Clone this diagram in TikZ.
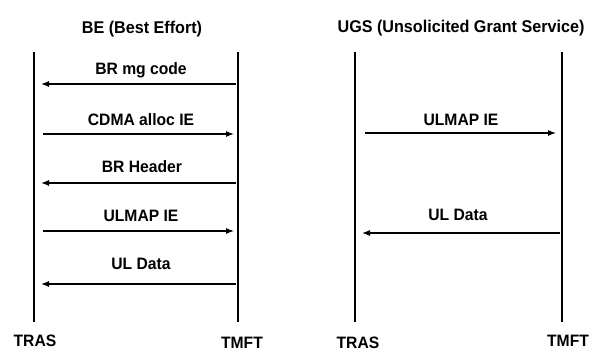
\documentclass[tikz,border=0pt]{standalone}
\usepackage{fontspec}
\setmainfont{Liberation Sans}[FakeStretch=0.95]
\usetikzlibrary{arrows.meta,positioning}

\tikzset{
	lifeline/.style={line width=1.2pt},
	msg/.style={-{Latex[length=8pt,width=6pt]},line width=1.1pt},
	lbl/.style={font=\bfseries\fontsize{16.5}{16.5}\selectfont,inner sep=0pt},
	ttl/.style={font=\bfseries\fontsize{17}{17}\selectfont,inner sep=0pt}
}

\begin{document}
\begin{tikzpicture}[x=1pt,y=-1pt]
	\useasboundingbox (0,0) rectangle (597,352);

	% BE (Best Effort)
	\node[ttl]	(beTitle)	at (142,29)		{BE (Best Effort)};
	\coordinate	(beTrasTop)	at (34,52);
	\coordinate	(beTrasBot)	at (34,322);
	\coordinate	(beTmftTop)	at (238,52);
	\coordinate	(beTmftBot)	at (238,322);
	\node[lbl]	(beTras)	at (35,341)		{TRAS};
	\node[lbl]	(beTmft)	at (242,343)	{TMFT};

	\draw[lifeline]	(beTrasTop) -- (beTrasBot);
	\draw[lifeline]	(beTmftTop) -- (beTmftBot);

	\coordinate	(brA)	at (236,84);	\coordinate	(brB)	at (41,84);
	\coordinate	(cdA)	at (43,134);	\coordinate	(cdB)	at (234,134);
	\coordinate	(bhA)	at (236,183);	\coordinate	(bhB)	at (41,183);
	\coordinate	(ulA)	at (43,231);	\coordinate	(ulB)	at (234,231);
	\coordinate	(udA)	at (236,284);	\coordinate	(udB)	at (41,284);

	\draw[msg]	(brA) -- (brB);
	\draw[msg]	(cdA) -- (cdB);
	\draw[msg]	(bhA) -- (bhB);
	\draw[msg]	(ulA) -- (ulB);
	\draw[msg]	(udA) -- (udB);

	\node[lbl]	(brLbl)	at (141,70)		{BR mg code};
	\node[lbl]	(cdLbl)	at (141,120)	{CDMA alloc IE};
	\node[lbl]	(bhLbl)	at (142,167)	{BR Header};
	\node[lbl]	(ulLbl)	at (141,216)	{ULMAP IE};
	\node[lbl]	(udLbl)	at (141,264)	{UL Data};

	% UGS (Unsolicited Grant Service)
	\node[ttl]	(ugsTitle)	at (461,28)		{UGS (Unsolicited Grant Service)};
	\coordinate	(ugsTrasTop)	at (355,52);
	\coordinate	(ugsTrasBot)	at (355,322);
	\coordinate	(ugsTmftTop)	at (562,52);
	\coordinate	(ugsTmftBot)	at (562,322);
	\node[lbl]	(ugsTras)	at (358,343)	{TRAS};
	\node[lbl]	(ugsTmft)	at (568,341)	{TMFT};

	\draw[lifeline]	(ugsTrasTop) -- (ugsTrasBot);
	\draw[lifeline]	(ugsTmftTop) -- (ugsTmftBot);

	\coordinate	(umA)	at (365,133);	\coordinate	(umB)	at (556,133);
	\coordinate	(dtA)	at (560,233);	\coordinate	(dtB)	at (362,233);

	\draw[msg]	(umA) -- (umB);
	\draw[msg]	(dtA) -- (dtB);

	\node[lbl]	(umLbl)	at (461,120)	{ULMAP IE};
	\node[lbl]	(dtLbl)	at (458,215)	{UL Data};
\end{tikzpicture}
\end{document}
